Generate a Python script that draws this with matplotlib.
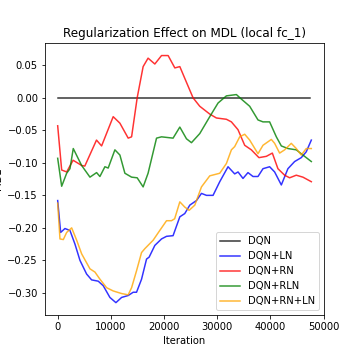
import matplotlib
matplotlib.use("Agg")
import matplotlib.pyplot as plt
import numpy as np

labels = ["DQN", "DQN+LN", "DQN+RN", "DQN+RLN", "DQN+RN+LN"]
colors = ["black", "blue", "red", "green", "orange"]

dqn_x = [0, 47500]
dqn_y = [0.0, 0.0]

ln_x = [0, 560, 1370, 2310, 3250, 4190, 5440, 6380, 7630, 8570, 9820, 10950, 12020, 13270,
        14200, 14830, 15770, 16710, 17200, 18270, 19530, 20470, 21700, 22970, 23900, 24850,
        26100, 27040, 27980, 29220, 30480, 32040, 33290, 33920, 34850, 35790, 36730, 37670,
        38610, 39860, 40800, 42060, 43300, 44560, 45810, 46750, 47700]
ln_y = [-0.158, -0.207, -0.201, -0.204, -0.225, -0.250, -0.271, -0.280, -0.282, -0.289, -0.307,
        -0.315, -0.307, -0.304, -0.299, -0.299, -0.279, -0.248, -0.245, -0.227, -0.217, -0.213,
        -0.212, -0.183, -0.178, -0.165, -0.158, -0.147, -0.150, -0.150, -0.129, -0.106, -0.117,
        -0.114, -0.124, -0.115, -0.121, -0.121, -0.109, -0.106, -0.114, -0.134, -0.109, -0.098,
        -0.092, -0.083, -0.065]

rn_x = [0, 750, 1690, 2900, 4500, 5100, 7300, 8260, 10440, 11700, 13260, 13900, 14950, 16070,
        17000, 18270, 19530, 20770, 22030, 22970, 23900, 25460, 26720, 28600, 29850, 31730,
        32670, 33910, 35170, 36420, 37850, 39240, 40370, 41420, 42680, 43620, 44870, 46120, 47700]
rn_y = [-0.043, -0.111, -0.114, -0.096, -0.104, -0.105, -0.065, -0.074, -0.029, -0.039, -0.062,
        -0.060, 0.000, 0.048, 0.061, 0.052, 0.065, 0.065, 0.046, 0.048, 0.030, 0.000, -0.013,
        -0.025, -0.031, -0.033, -0.037, -0.049, -0.073, -0.080, -0.092, -0.090, -0.085, -0.109,
        -0.119, -0.123, -0.119, -0.122, -0.129]

rln_x = [0, 750, 1690, 2310, 2930, 4500, 6070, 7320, 7940, 8880, 9500, 10760, 11700, 12640,
         13900, 14950, 16070, 17000, 18590, 19530, 21700, 22970, 24220, 25160, 26720, 28600,
         30160, 31730, 33610, 34550, 36110, 37670, 38610, 39860, 41120, 42060, 43300, 44870,
         46120, 47700]
rln_y = [-0.093, -0.136, -0.116, -0.109, -0.078, -0.104, -0.122, -0.115, -0.121, -0.106, -0.108,
         -0.080, -0.088, -0.116, -0.122, -0.123, -0.137, -0.116, -0.062, -0.060, -0.062, -0.045,
         -0.063, -0.069, -0.055, -0.029, -0.008, 0.003, 0.005, -0.002, -0.013, -0.034, -0.037,
         -0.037, -0.060, -0.074, -0.078, -0.080, -0.088, -0.098]

rnln_x = [0, 430, 1060, 1690, 2630, 3570, 4510, 6070, 7010, 7950, 9200, 10440, 12020, 13260,
          13900, 14830, 15770, 16390, 17950, 19200, 20470, 21400, 22000, 22970, 23900, 24720,
          25790, 27040, 28600, 30480, 31730, 32670, 33290, 34230, 35170, 36110, 37670, 38610,
          40180, 40800, 41740, 42680, 43930, 44870, 45810, 46750, 47700]
rnln_y = [-0.162, -0.217, -0.218, -0.207, -0.200, -0.219, -0.240, -0.263, -0.268, -0.279, -0.292,
          -0.297, -0.301, -0.303, -0.292, -0.266, -0.238, -0.232, -0.219, -0.204, -0.189, -0.189,
          -0.186, -0.160, -0.168, -0.173, -0.165, -0.137, -0.120, -0.116, -0.101, -0.080, -0.075,
          -0.060, -0.056, -0.065, -0.086, -0.073, -0.064, -0.070, -0.085, -0.080, -0.070, -0.078,
          -0.088, -0.078, -0.078]

fig = plt.figure(figsize=(5, 5), dpi=72)
ax = fig.add_axes([0.125, 0.125, 0.775, 0.755])
series = [(dqn_x, dqn_y), (ln_x, ln_y), (rn_x, rn_y), (rln_x, rln_y), (rnln_x, rnln_y)]
for (xs, ys), lab, c in zip(series, labels, colors):
    ax.plot(xs, ys, color=c, label=lab, alpha=0.8, linewidth=1.5)

ax.set_title("Regularization Effect on MDL (local fc_1)")
ax.set_xlabel("Iteration")
ax.set_ylabel("MDL")
ax.set_xticks([0, 10000, 20000, 30000, 40000, 50000])
ax.set_yticks([-0.30, -0.25, -0.20, -0.15, -0.10, -0.05, 0.00, 0.05])
ax.legend(loc="lower right")
fig.savefig("out.png", dpi=72)
